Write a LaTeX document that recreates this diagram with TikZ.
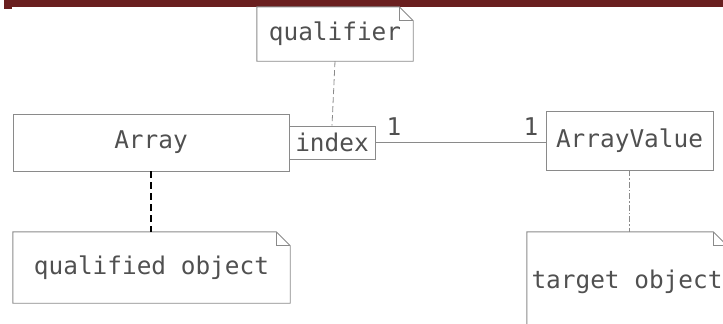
\documentclass[tikz,border=0pt]{standalone}
\usepackage{fontspec}
\usepackage{xcolor}
\usepackage{tikz}
\newfontfamily\umlfont{DejaVu Sans Mono}
\definecolor{barred}{HTML}{6A1F1F}
\definecolor{umlgray}{HTML}{8A8A8A}
\definecolor{umltext}{HTML}{505050}

\begin{document}
\begin{tikzpicture}[
x=1pt, y=-1pt,
% Style for class boxes
class box/.style={
rectangle,
draw=umlgray,
line width=0.9pt,
inner sep=0pt,
text=umltext,
font=\umlfont\fontsize{24.4}{28}\selectfont
},
% Style for notes (outline drawn afterwards)
note box/.style={
rectangle,
inner sep=0pt,
text=umltext,
font=\umlfont\fontsize{24.4}{28}\selectfont
},
note line/.style={draw=umlgray, line width=0.9pt},
mult/.style={inner sep=0pt, text=umltext, font=\umlfont\fontsize{24.4}{28}\selectfont},
assoc/.style={draw=umlgray, line width=0.9pt},
anchor line/.style={draw=umlgray, line width=0.8pt, dash pattern=on 6pt off 3pt}
]
\useasboundingbox (0,0) rectangle (723,324);
\clip (0,0) rectangle (723,324);

% Top bar
\fill[barred] (4,0) rectangle (723,7);
\fill[barred] (4,7) rectangle (12,9);

% Classes
\node[class box, minimum width=276pt, minimum height=57pt] (arr) at (151,142.5) {Array};
\node[class box, minimum width=86pt, minimum height=33pt] (index) at (332,142.5) {index};
\node[class box, minimum width=167pt, minimum height=59pt] (aval) at (629.5,140.5) {ArrayValue};

% Notes
\node[note box, minimum width=156pt, minimum height=54pt] (qual) at (335,34) {qualifier};
\node[note box, minimum width=277pt, minimum height=71pt] (qobj) at (151.5,267.5) {qualified object};
\node[note box, minimum width=200pt, minimum height=100pt] (tobj) at (627,282) {target object};

\foreach \n in {qual,qobj,tobj} {
\draw[note line] (\n.north west) -- ([xshift=-14pt]\n.north east) -- ([yshift=-14pt]\n.north east) -- (\n.south east) -- (\n.south west) -- cycle;
\draw[note line] ([xshift=-14pt]\n.north east) |- ([yshift=-14pt]\n.north east);
}

% Multiplicities
\node[mult] (m1) at (394,127) {1};
\node[mult] (m2) at (531,127) {1};

% Association between qualifier and target class
\draw[assoc] (index.east) -- (index.east -| aval.west);

% Note anchors
\draw[anchor line] (qual.south) -- (index.north);
\draw[black, line width=1.2pt, dash pattern=on 7pt off 4pt] (arr.south) -- (arr.south |- qobj.north);
\draw[draw=umlgray, line width=0.8pt, dash pattern=on 6pt off 2pt on 1.5pt off 2pt] (aval.south) -- (aval.south |- tobj.north);

\end{tikzpicture}
\end{document}
